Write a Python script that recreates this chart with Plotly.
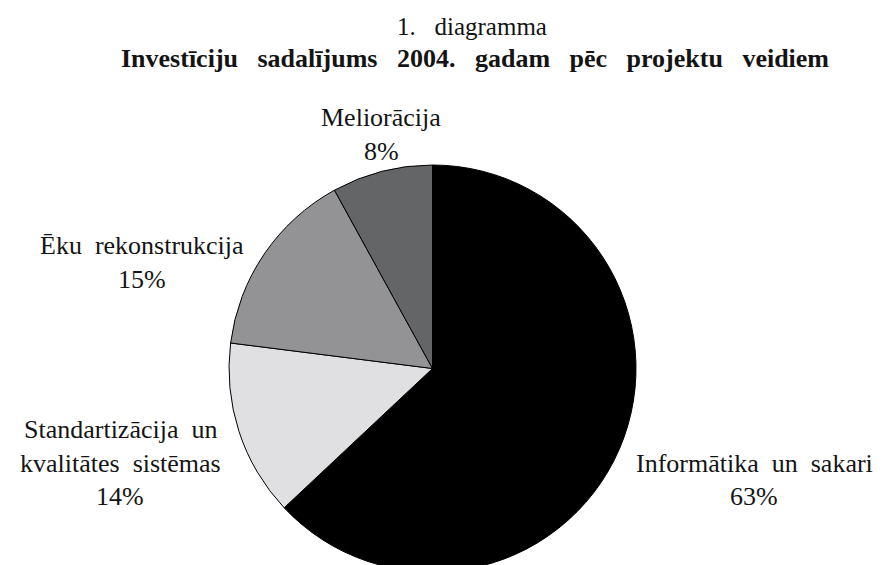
import plotly.graph_objects as go

W, H = 886, 565
OFF = 8  # the page body adds an 8px margin around the figure

labels = ["Informātika un sakari", "Standartizācija un<br>kvalitātes sistēmas",
          "Ēku rekonstrukcija", "Meliorācija"]
shares = [63, 14, 15, 8]
colors = ["#000000", "#e0e0e2", "#939396", "#646567"]

title_top = "1. diagramma"
title_main = "Investīciju sadalījums 2004. gadam pēc projektu veidiem"

# label placement: centre x and centre y of the first line (window pixels)
label_pos = [(754, 463), (120, 429), (142, 245), (381, 117)]
LINE = 34

FONT = "Liberation Serif"
INK = "#141414"


def px(x, y):
    return (x - OFF) / W, 1 - (y - OFF) / H


def spaced(text, n):
    return text.replace(" ", " " + "\u00a0" * n)


def note(fig, x, y, text, size, bold=False):
    ax, ay = px(x, y)
    if bold:
        text = f"<b>{text}</b>"
    fig.add_annotation(
        x=ax, y=ay, xref="paper", yref="paper",
        xanchor="center", yanchor="middle",
        text=text, showarrow=False,
        font=dict(family=FONT, size=size, color=INK),
    )


fig = go.Figure()
fig.add_trace(
    go.Pie(
        labels=labels,
        values=shares,
        sort=False,
        direction="clockwise",
        rotation=0,
        textinfo="none",
        hoverinfo="label+percent",
        marker=dict(colors=colors, line=dict(color="#000000", width=1)),
        domain=dict(x=[(229 - OFF) / W, (636 - OFF) / W],
                    y=[1 - (572 - OFF) / H, 1 - (165 - OFF) / H]),
        showlegend=False,
    )
)

for lab, val, (x, y) in zip(labels, shares, label_pos):
    lines = lab.split("<br>") + [f"{val}%"]
    for i, line in enumerate(lines):
        note(fig, x, y + i * LINE, spaced(line, 1), 26)

note(fig, 472, 26, spaced(title_top, 2), 25)
note(fig, 475, 58, spaced(title_main, 2), 26, bold=True)

fig.update_layout(
    width=W, height=H,
    margin=dict(l=0, r=0, t=0, b=0),
    paper_bgcolor="white",
    plot_bgcolor="white",
)

fig.write_html("out.html")
